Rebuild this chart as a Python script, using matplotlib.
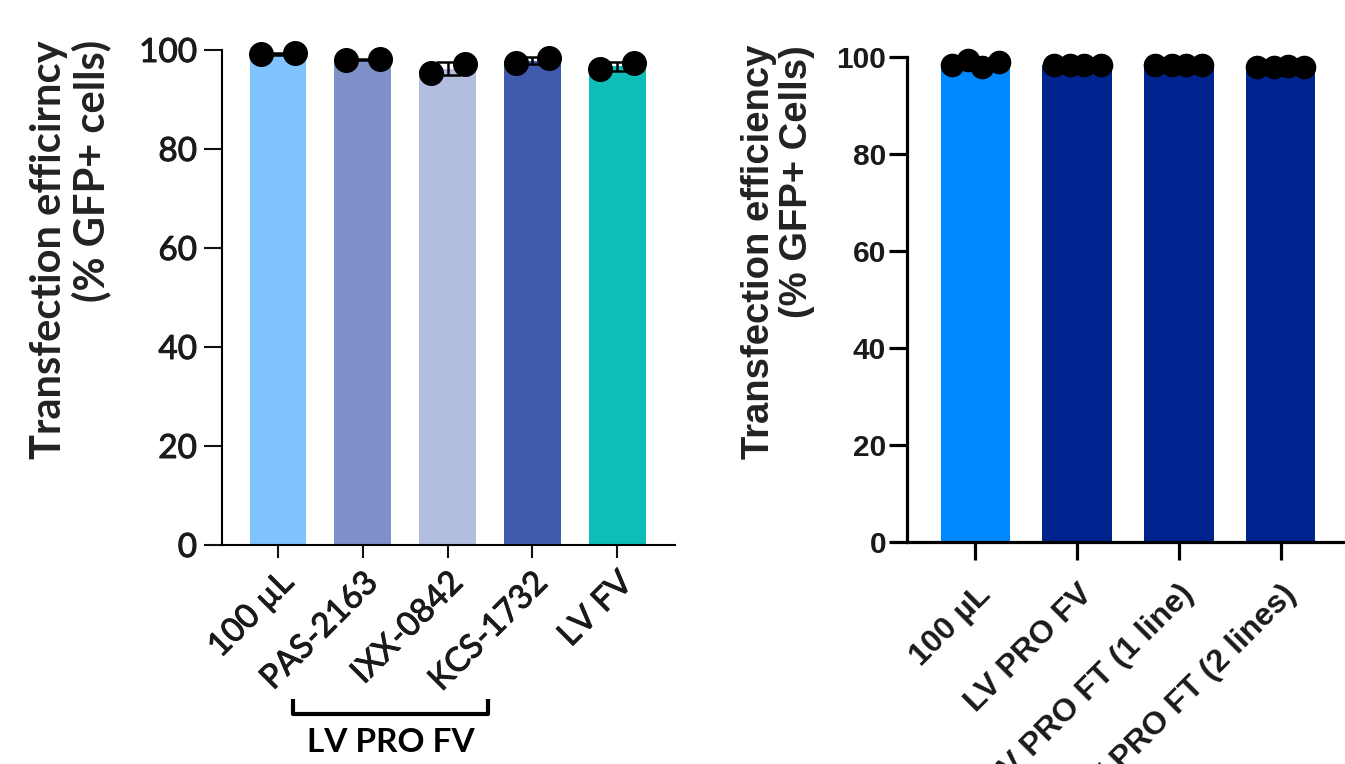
import numpy as np
import matplotlib.pyplot as plt
import matplotlib.patheffects as pe
from matplotlib.transforms import blended_transform_factory

# === Data ===
left_labels = ["100 µL", "PAS-2163", "IXX-0842", "KCS-1732", "LV FV"]
left_points = [
    [99.1, 99.3],
    [98.0, 98.2],
    [95.3, 97.2],
    [97.3, 98.3],
    [96.1, 97.3],
]
left_colors = ["#80C4FF", "#7F91C8", "#B3BDE0", "#405AAD", "#0FBDB8"]

right_labels = ["100 µL", "LV PRO FV", "LV PRO FT (1 line)", "LV PRO FT (2 lines)"]
right_points = [
    [98.4, 99.4, 98.0, 99.0],
    [98.3, 98.4, 98.3, 98.4],
    [98.3, 98.3, 98.4, 98.3],
    [98.0, 98.0, 98.1, 98.0],
]
right_colors = ["#0088FF", "#00238F", "#00238F", "#00238F"]

W, H = 1345, 764
fig = plt.figure(figsize=(W / 100, H / 100), dpi=100)
thick = [pe.withStroke(linewidth=0.7, foreground="#1a1a1a")]

# ---------- left panel ----------
axL = fig.add_axes([222 / W, 1 - 545 / H, (675 - 222) / W, (545 - 50) / H])
xL = np.arange(len(left_labels))
meansL = [np.mean(p) for p in left_points]
sdL = [np.std(p, ddof=1) for p in left_points]
axL.bar(xL, meansL, width=0.67, color=left_colors, zorder=1)
axL.errorbar(xL, meansL, yerr=sdL, fmt="none", ecolor="black", elinewidth=1.8,
             capsize=9, capthick=1.8, zorder=2, clip_on=False)
offL = [-0.2, 0.2]
for i, pts in enumerate(left_points):
    axL.plot(xL[i] + np.array(offL), pts, "o", color="black", ms=17,
             zorder=3, clip_on=False)
axL.set_xlim(-0.66, 4.68)
axL.set_ylim(0, 100)
axL.set_yticks([0, 20, 40, 60, 80, 100])
axL.set_xticks(xL)
axL.set_xticklabels(left_labels, rotation=45, ha="right", rotation_mode="anchor",
                    fontsize=24, family="Lato", color="#1a1a1a")
for lab in axL.get_xticklabels():
    lab.set_path_effects(thick)
for lab in axL.get_yticklabels():
    lab.set_family("Lato")
    lab.set_fontsize(24)
    lab.set_color("#1a1a1a")
    lab.set_path_effects(thick)
axL.tick_params(axis="y", length=13, width=1.5, pad=5, color="#111111")
axL.tick_params(axis="x", length=9, width=1.5, pad=7, color="#111111")
for s in ["top", "right"]:
    axL.spines[s].set_visible(False)
for s in ["left", "bottom"]:
    axL.spines[s].set_linewidth(1.5)

fig.text(71 / W, 1 - 40 / H, "Transfection efficirncy\n(% GFP+ cells)",
         rotation=90, ha="center", va="top", multialignment="right",
         fontsize=30, fontweight="bold", family="Lato", color="#222222",
         linespacing=1.1)

# bracket under the LV PRO FV group
tr = blended_transform_factory(axL.transData, axL.transAxes)
axL.plot([0.18, 0.18, 2.48, 2.48], [-0.311, -0.341, -0.341, -0.311], color="black",
         lw=3, transform=tr, clip_on=False, solid_capstyle="butt")
axL.text(1.33, -0.398, "LV PRO FV", transform=tr, ha="center", va="center",
         fontsize=24, fontweight="bold", family="Lato")

# ---------- right panel ----------
axR = fig.add_axes([907 / W, 1 - 542 / H, (1349 - 907) / W, (542 - 57) / H])
xR = np.arange(len(right_labels))
meansR = [np.mean(p) for p in right_points]
axR.bar(xR, meansR, width=0.68, color=right_colors, zorder=1)
offR = [-0.23, -0.07, 0.07, 0.23]
for i, pts in enumerate(right_points):
    axR.plot(xR[i] + np.array(offR), pts, "o", color="black", ms=16,
             zorder=3, clip_on=False)
axR.set_xlim(-0.67, 3.67)
axR.set_ylim(0, 100)
axR.set_yticks([0, 20, 40, 60, 80, 100])
axR.set_xticks(xR)
axR.set_xticklabels(right_labels, rotation=45, ha="right", rotation_mode="anchor",
                    fontsize=23, fontweight="bold", family="Liberation Sans",
                    color="#1a1a1a")
for lab in axR.get_yticklabels():
    lab.set_family("Liberation Sans")
    lab.set_fontweight("bold")
    lab.set_fontsize(21.5)
    lab.set_color("#1a1a1a")
axR.tick_params(axis="y", length=13, width=2.3, pad=2)
axR.tick_params(axis="x", length=13, width=2.3, pad=14)
for s in ["top", "right"]:
    axR.spines[s].set_visible(False)
for s in ["left", "bottom"]:
    axR.spines[s].set_linewidth(2.3)

fig.text(778 / W, 1 - 45 / H, "Transfection efficiency\n(% GFP+ Cells)",
         rotation=90, ha="center", va="top", multialignment="right",
         fontsize=27.5, fontweight="bold", family="Liberation Sans", color="#222222",
         linespacing=1.05)

fig.savefig("out.png", dpi=100)
